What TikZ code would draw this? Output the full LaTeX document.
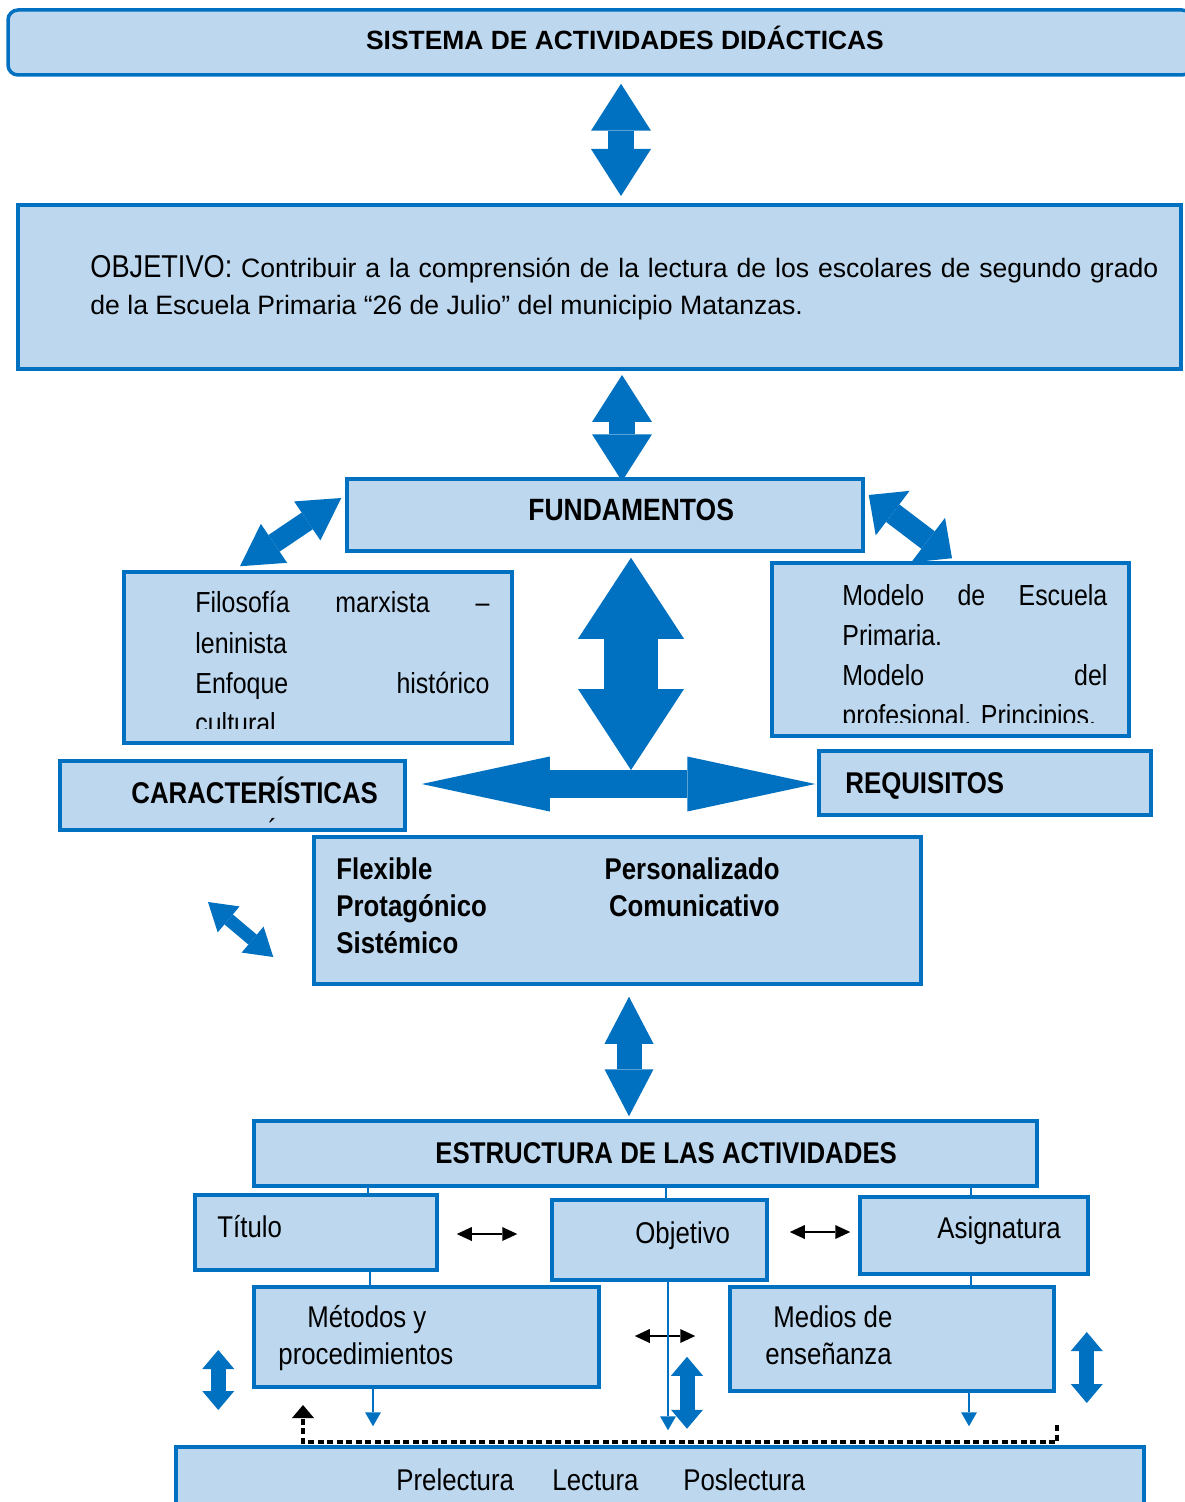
\documentclass[tikz,border=0pt]{standalone}
\usepackage{fontspec}
\setmainfont{Liberation Sans}
\newfontfamily\narrowfont[FakeStretch=0.86]{Liberation Sans}
\usetikzlibrary{arrows.meta}
\definecolor{azul}{HTML}{0070C0}
\definecolor{celeste}{HTML}{BDD7EE}

\begin{document}
\begin{tikzpicture}[x=0.5pt,y=-0.5pt,
  caja/.style={draw=azul, fill=celeste, line width=1.75pt, rectangle, inner sep=0pt},
  texto/.style={inner sep=0pt, anchor=base west, font=\narrowfont\fontsize{15}{18.5}\selectfont},
  negrita/.style={texto, font=\narrowfont\bfseries\fontsize{15}{18.5}\selectfont},
  flecha/.style={azul, line width=13pt, {Triangle[length=23.5pt,width=30pt,line width=0pt]}-{Triangle[length=23.5pt,width=30pt,line width=0pt]}},
  flechita/.style={azul, line width=7.5pt, {Triangle[length=9.5pt,width=16pt,line width=0pt]}-{Triangle[length=9.5pt,width=16pt,line width=0pt]}},
  linea/.style={azul, line width=0.75pt},
  bajada/.style={azul, line width=1.25pt, -{Triangle[length=7pt,width=8pt,line width=0pt]}},
  negra/.style={black, line width=1pt, {Triangle[length=7.5pt,width=7pt,line width=0pt]}-{Triangle[length=7.5pt,width=7pt,line width=0pt]}},
  punteada/.style={black, line width=2pt, dash pattern=on 3pt off 1.75pt, -{Triangle[length=6.5pt,width=11pt,line width=0pt]}}]
\useasboundingbox (0,0) rectangle (1184,1502);

\node[caja, rounded corners=5pt, minimum width=592pt, minimum height=32.5pt] (sistema) at (600,42.5) {};
\node[caja, line width=2pt, minimum width=581.5pt, minimum height=82pt] (objetivo) at (599.5,287) {};
\node[caja, minimum width=258pt, minimum height=36pt] (fund) at (605,515) {};
\node[caja, minimum width=194pt, minimum height=85.5pt] (filosofia) at (318,657.5) {};
\node[caja, minimum width=178.5pt, minimum height=86.5pt] (modelo) at (950.5,649.5) {};
\node[caja, minimum width=172.5pt, minimum height=34.5pt] (caract) at (232.5,795.5) {};
\node[caja, minimum width=166pt, minimum height=32pt] (requis) at (985,783) {};
\node[caja, minimum width=303.5pt, minimum height=73.5pt] (rasgos) at (617.5,910.5) {};
\node[caja, minimum width=391.5pt, minimum height=32.5pt] (estruct) at (645.5,1153.5) {};
\node[caja, minimum width=121pt, minimum height=37.5pt] (titulo) at (316,1232.5) {};
\node[caja, minimum width=107.5pt, minimum height=40pt] (obj) at (659.5,1240) {};
\node[caja, minimum width=114pt, minimum height=38.5pt] (asig) at (974,1235.5) {};
\node[caja, minimum width=172.5pt, minimum height=50pt] (metodos) at (426.5,1337) {};
\node[caja, minimum width=162pt, minimum height=52pt] (medios) at (892,1339) {};
\node[caja, minimum width=484pt, minimum height=36.5pt] (fases) at (660,1483.5) {};

\node[inner sep=0pt, anchor=base, font=\bfseries\fontsize{13.2}{16}\selectfont] (tsistema) at (625,50) {SISTEMA DE ACTIVIDADES DIDÁCTICAS};
\node[inner sep=0pt, anchor=north west, text width=534pt, align=justify, font=\fontsize{13.3}{18.5}\selectfont] (tobjetivo) at (90,251) {\strut{\narrowfont\fontsize{15.8}{18.5}\selectfont OBJETIVO:} Contribuir a la comprensión de la lectura de los escolares de segundo grado\linebreak de la Escuela Primaria “26 de Julio” del municipio Matanzas.};
\node[negrita, font=\narrowfont\bfseries\fontsize{15.4}{19}\selectfont] (tfund) at (528,520) {FUNDAMENTOS};
\begin{scope}
\clip (124,572) rectangle (512,728);
\node[texto, anchor=north west, text width=147pt, align=left, font=\narrowfont\fontsize{14.5}{20.2}\selectfont] (tfilo) at (195,584) {\strut\makebox[147pt][l]{Filosofía\hfill marxista\hfill –}\\leninista\\\makebox[147pt][l]{Enfoque\hfill histórico}\\cultural};
\end{scope}
\begin{scope}
\clip (772,563) rectangle (1129,722);
\node[texto, anchor=north west, text width=132.5pt, align=left, font=\narrowfont\fontsize{14.5}{20}\selectfont] (tmodelo) at (842,577) {\strut\makebox[132.5pt][l]{Modelo\hfill de\hfill Escuela}\\Primaria.\\\makebox[132.5pt][l]{Modelo\hfill del}\\profesional.\ Principios.};
\end{scope}
\node[negrita] (tcaract) at (131,803) {CARACTERÍSTICAS};
\node[texto] (tilde) at (268,840) {´};
\node[negrita] (trequis) at (845,793) {REQUISITOS};
\node[negrita, anchor=north west, align=left] (tizq) at (336,853) {\strut Flexible\\Protagónico\\Sistémico};
\node[negrita, anchor=north east, align=right] (tder) at (780,853) {\strut Personalizado\\Comunicativo};
\node[negrita] (testruct) at (435,1163) {ESTRUCTURA DE LAS ACTIVIDADES};
\node[texto] (ttitulo) at (217,1237) {Título};
\node[texto] (tobj) at (635,1243) {Objetivo};
\node[texto] (tasig) at (937,1238) {Asignatura};
\node[texto, anchor=north west, align=left] (tmetodos) at (278,1301) {\strut\hspace{14.5pt}Métodos y\\procedimientos};
\node[texto, anchor=north west, align=left] (tmedios) at (765,1301) {\strut\hspace{4pt}Medios de\\enseñanza};
\node[texto] (tpre) at (396,1490) {Prelectura};
\node[texto] (tlec) at (552,1490) {Lectura};
\node[texto] (tpos) at (683,1490) {Poslectura};

\draw[flecha, shorten <=3.5pt, shorten >=3.5pt] ([xshift=10.5pt]sistema.south) -- ([xshift=10.75pt]objetivo.north);
\draw[flecha, shorten <=2pt, shorten >=-2pt] ([xshift=11.25pt]objetivo.south) -- ([xshift=8.5pt]fund.north);
\coordinate (cruce) at (631,770);
\draw[azul, line width=27pt, {Triangle[length=40.5pt,width=53pt,line width=0pt]}-{Triangle[length=40.5pt,width=53pt,line width=0pt]}, shorten <=2.5pt] ([xshift=13pt]fund.south) -- (cruce);
\draw[azul, line width=14pt, {Triangle[length=64pt,width=27.5pt,line width=0pt]}-{Triangle[length=64pt,width=27.5pt,line width=0pt]}, shorten <=7.5pt, shorten >=1pt] ([yshift=5.75pt]caract.east) -- ([yshift=-0.5pt]requis.west);
\draw[azul, line width=10pt, {Triangle[length=20.5pt,width=23.5pt,line width=0pt]}-{Triangle[length=20.5pt,width=23.5pt,line width=0pt]}] ([xshift=-39pt,yshift=2pt]filosofia.north) -- ([xshift=-2pt,yshift=8.5pt]fund.west);
\draw[azul, line width=11pt, {Triangle[length=15pt,width=28pt,line width=0pt]}-{Triangle[length=15pt,width=28pt,line width=0pt]}] ([xshift=2pt,yshift=10pt]fund.east) -- ([xshift=0.75pt,yshift=1.5pt]modelo.north);
\coordinate (libre) at (208,902);
\draw[azul, line width=6.5pt, {Triangle[length=13.5pt,width=17pt,line width=0pt]}-{Triangle[length=13.5pt,width=17pt,line width=0pt]}] (libre) -- ([xshift=-19.5pt,yshift=-23.25pt]rasgos.west);
\draw[azul, line width=12.5pt, {Triangle[length=23.5pt,width=24.5pt,line width=0pt]}-{Triangle[length=23.5pt,width=24.5pt,line width=0pt]}, shorten <=5.5pt, shorten >=1.5pt] ([xshift=5.75pt]rasgos.south) -- ([xshift=-8.25pt]estruct.north);

\draw[linea] ([xshift=26pt]titulo.north) -- ([xshift=26pt]titulo.north |- estruct.south);
\draw[linea] ([xshift=3.25pt]obj.north) -- ([xshift=3.25pt]obj.north |- estruct.south);
\draw[linea] ([xshift=-1.5pt]asig.north) -- ([xshift=-1.5pt]asig.north |- estruct.south);
\draw[linea] ([xshift=27pt]titulo.south) -- ([xshift=27pt]titulo.south |- metodos.north);
\draw[linea] ([xshift=-1.5pt]asig.south) -- ([xshift=-1.5pt]asig.south |- medios.north);

\draw[negra, shorten <=9pt, shorten >=16.5pt] ([yshift=-0.75pt]titulo.east) -- ([yshift=3pt]obj.west);
\draw[negra, shorten <=10.5pt, shorten >=4pt] ([yshift=4pt]obj.east) -- ([yshift=1.75pt]asig.west);
\draw[negra, shorten <=17pt, shorten >=16.5pt] ([yshift=0.5pt]metodos.east) -- ([yshift=1.5pt]medios.west);

\draw[bajada, shorten >=9.5pt] ([xshift=-26.75pt]metodos.south) -- ([xshift=-26.75pt]metodos.south |- fases.north);
\draw[bajada, shorten >=7.5pt] ([xshift=4.25pt]obj.south) -- ([xshift=4.25pt]obj.south |- fases.north);
\draw[bajada, shorten >=9.5pt] ([xshift=38.5pt]medios.south) -- ([xshift=38.5pt]medios.south |- fases.north);

\draw[flechita] ([xshift=-17pt,yshift=-6.5pt]metodos.west) -- ([xshift=-17pt,yshift=-36.5pt]metodos.west);
\draw[flechita] ([xshift=13.75pt,yshift=-37.5pt]obj.south) -- ([xshift=13.75pt,yshift=-73.5pt]obj.south);
\draw[flechita] ([xshift=15.5pt,yshift=3.5pt]medios.east) -- ([xshift=15.5pt,yshift=-32pt]medios.east);

\coordinate (pa) at (1057,1425);
\coordinate (pb) at (303,1442);
\coordinate (pc) at (303,1405);
\draw[punteada] (pa) |- (pb) -- (pc);
\end{tikzpicture}
\end{document}
